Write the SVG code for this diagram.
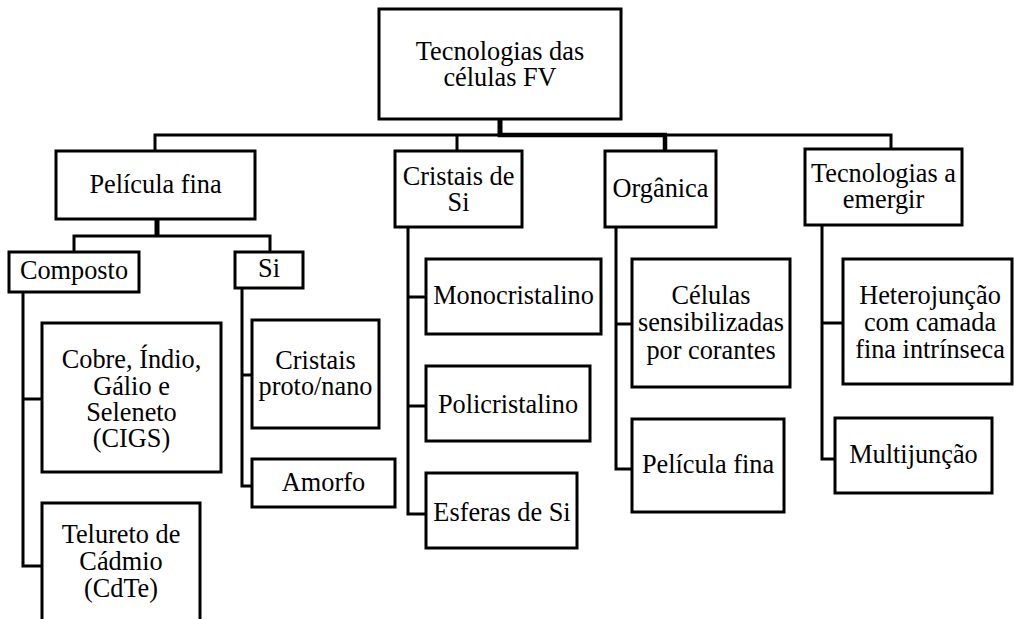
<svg xmlns="http://www.w3.org/2000/svg" width="1014" height="619" viewBox="0 0 1014 619">
<style>
.box{fill:#fff;stroke:#000;stroke-width:3}
.c{fill:none;stroke:#000;stroke-width:3;stroke-linejoin:miter;stroke-linecap:butt}
.thick{stroke-width:5}
.mid{stroke-width:4.5}
.t{font-size:26.3px;fill:#000;text-anchor:middle}
</style>
<rect width="1014" height="619" fill="#fff"/>
<g id="connectors">
<path class="c thick" d="M500,119 V137"/>
<path class="c" d="M155,151 V135 H500"/>
<path class="c mid" d="M498,135 H667"/>
<path class="c" d="M665,135 H891 V149"/>
<path class="c" d="M457,135 V151"/>
<path class="c mid" d="M665,135 V151"/>
<path class="c thick" d="M157,219 V237"/>
<path class="c" d="M74,252 V236 H270 V252"/>
<path class="c" d="M23,292 V566 H42"/>
<path class="c" d="M23,399 H42"/>
<path class="c" d="M242,288 V486 H252"/>
<path class="c" d="M242,375 H252"/>
<path class="c" d="M408,227 V514 H426"/>
<path class="c" d="M408,297 H426"/>
<path class="c" d="M408,406 H426"/>
<path class="c" d="M616,227 V469 H632"/>
<path class="c" d="M616,324 H632"/>
<path class="c" d="M822,225 V459 H835"/>
<path class="c" d="M822,323 H843"/>
</g>
<g class="t" font-family="Liberation Serif">
<g id="root"><rect class="box" x="379" y="9" width="242" height="110"/><text x="500" y="60">Tecnologias das</text><text x="500" y="86">células FV</text></g>
<g id="pelicula-fina"><rect class="box" x="56" y="151" width="199" height="68"/><text x="155.5" y="193">Película fina</text></g>
<g id="cristais-si"><rect class="box" x="395" y="151" width="127" height="76"/><text x="458.5" y="185">Cristais de</text><text x="458.5" y="211">Si</text></g>
<g id="organica"><rect class="box" x="605" y="151" width="111" height="76"/><text x="660.5" y="197">Orgânica</text></g>
<g id="emergir"><rect class="box" x="805" y="149" width="157" height="76"/><text x="883.5" y="182">Tecnologias a</text><text x="883.5" y="208">emergir</text></g>
<g id="composto"><rect class="box" x="9" y="252" width="130" height="40"/><text x="74" y="279">Composto</text></g>
<g id="si"><rect class="box" x="235" y="252" width="68" height="36"/><text x="269" y="277">Si</text></g>
<g id="cigs"><rect class="box" x="42" y="323" width="179" height="149"/><text x="131.5" y="368">Cobre, Índio,</text><text x="131.5" y="394.5">Gálio e</text><text x="131.5" y="421">Seleneto</text><text x="131.5" y="447">(CIGS)</text></g>
<g id="cdte"><rect class="box" x="42" y="503" width="158" height="130"/><text x="121" y="543">Telureto de</text><text x="121" y="570">Cádmio</text><text x="121" y="596.5">(CdTe)</text></g>
<g id="proto-nano"><rect class="box" x="252" y="320" width="127" height="108"/><text x="315.5" y="369">Cristais</text><text x="315.5" y="395">proto/nano</text></g>
<g id="amorfo"><rect class="box" x="252" y="459" width="143" height="48"/><text x="323.5" y="491">Amorfo</text></g>
<g id="mono"><rect class="box" x="426" y="259" width="175" height="75"/><text x="513.5" y="304">Monocristalino</text></g>
<g id="poli"><rect class="box" x="426" y="366" width="164" height="75"/><text x="508" y="413">Policristalino</text></g>
<g id="esferas"><rect class="box" x="426" y="473" width="151" height="75"/><text x="502" y="521">Esferas de Si</text></g>
<g id="celulas"><rect class="box" x="632" y="259" width="158" height="128"/><text x="711" y="303.5">Células</text><text x="711" y="331">sensibilizadas</text><text x="711" y="358.5">por corantes</text></g>
<g id="pelicula-org"><rect class="box" x="632" y="419" width="152" height="93"/><text x="708" y="473">Película fina</text></g>
<g id="hetero"><rect class="box" x="843" y="259" width="169" height="125"/><text x="930" y="303.5">Heterojunção</text><text x="930" y="330.5">com camada</text><text x="930" y="357.5">fina intrínseca</text></g>
<g id="multi"><rect class="box" x="835" y="418" width="157" height="75"/><text x="913.5" y="463">Multijunção</text></g>
</g>
</svg>
